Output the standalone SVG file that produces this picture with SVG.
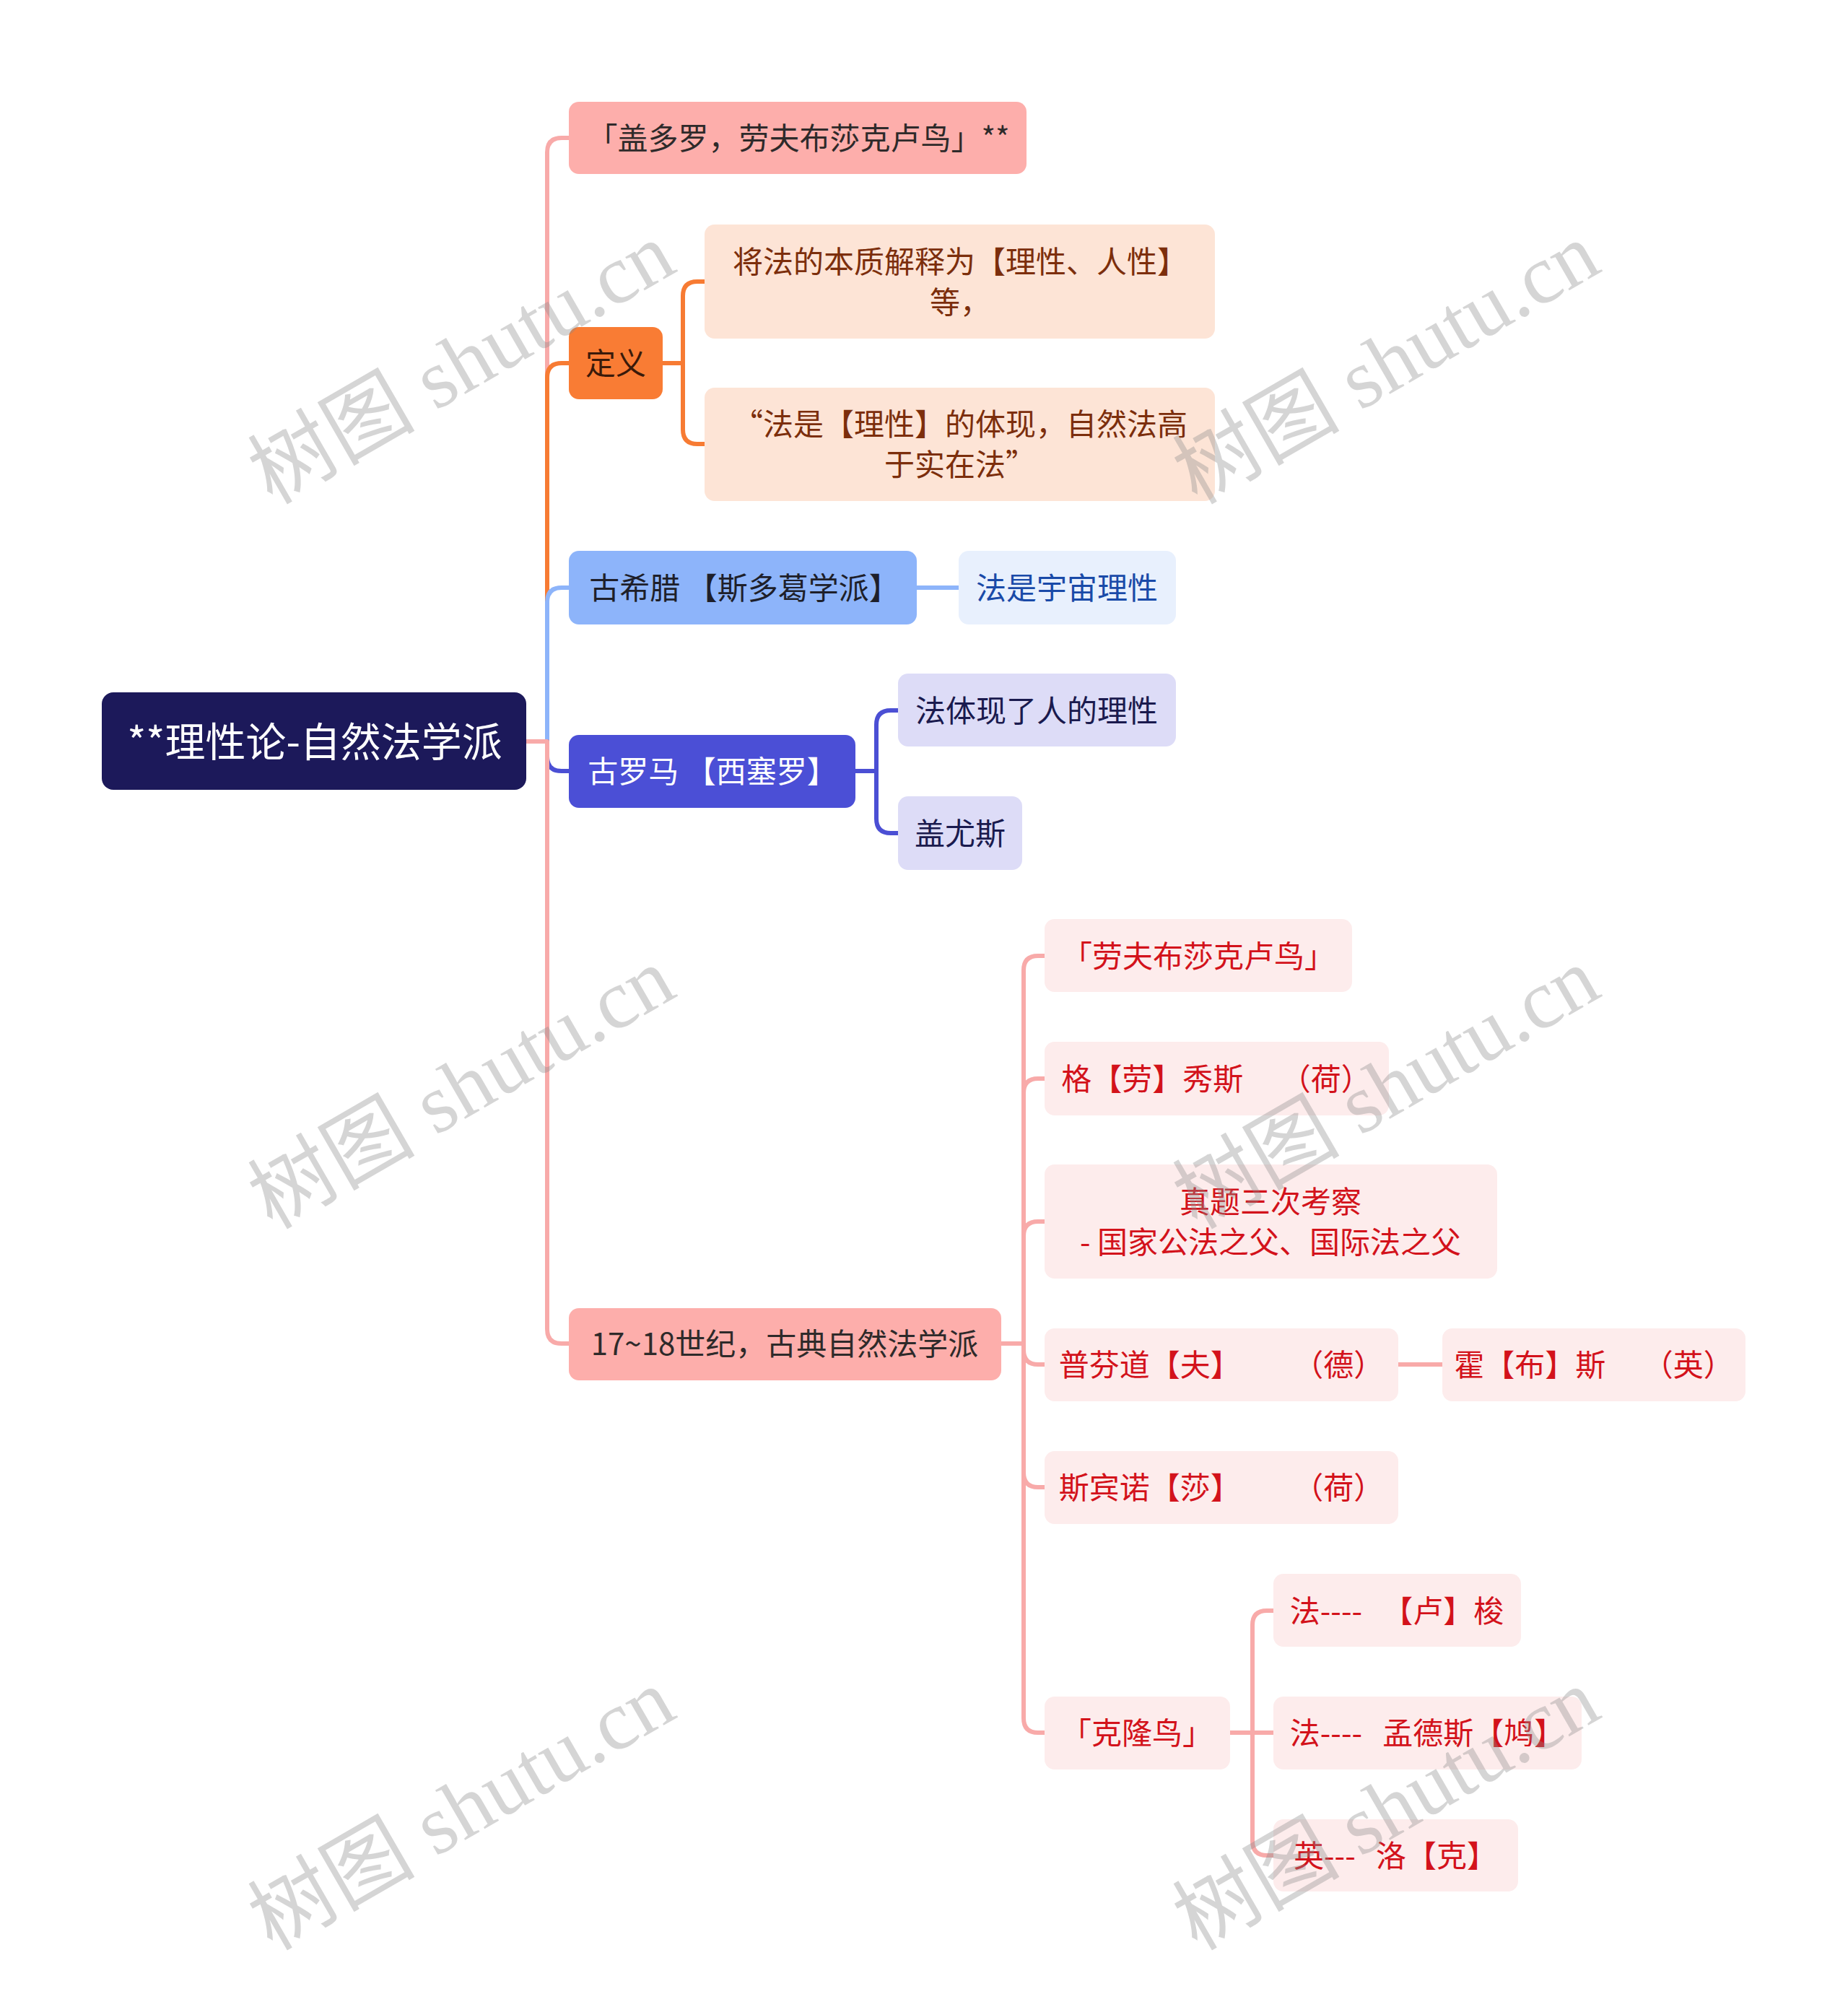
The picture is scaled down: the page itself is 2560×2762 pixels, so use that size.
<svg xmlns="http://www.w3.org/2000/svg" width="2560" height="2762" viewBox="0 0 2560 2762">
<style>
.t{font-family:"Noto Sans CJK SC","Noto Sans",sans-serif;font-size:42px;text-anchor:middle;dominant-baseline:central;white-space:pre}
.root{font-size:56px;fill:#ffffff}
.c{fill:none;stroke-width:6;stroke-linecap:butt;stroke-linejoin:round}
.pk{stroke:#f8aaa9}.or{stroke:#f77b33}.bl{stroke:#8db4fa}.in{stroke:#4b4fd4}
.wm{font-family:"Liberation Serif","Noto Sans CJK SC",serif;font-size:116px;fill:#8a8a8a;fill-opacity:0.36}
</style>
<rect width="2560" height="2762" fill="#ffffff"/>
<g id="connectors">
  <path class="c pk" d="M729 1027 H758 V211 Q758 191 778 191 H790"/>
  <path class="c or" d="M729 1027 H758 V523 Q758 503 778 503 H790"/>
  <path class="c bl" d="M729 1027 H758 V834 Q758 814 778 814 H790"/>
  <path class="c in" d="M729 1027 H758 V1048 Q758 1068 778 1068 H790"/>
  <path class="c pk" d="M729 1027 H758 V1841 Q758 1861 778 1861 H790"/>
  <path class="c or" d="M916 503 H946 V410 Q946 390 966 390 H978"/>
  <path class="c or" d="M916 503 H946 V595 Q946 615 966 615 H978"/>
  <path class="c bl" d="M1268 814 H1330"/>
  <path class="c in" d="M1183 1068 H1214 V1004 Q1214 984 1234 984 H1246"/>
  <path class="c in" d="M1183 1068 H1214 V1134 Q1214 1154 1234 1154 H1246"/>
  <path class="c pk" d="M1385 1861 H1418 V1344 Q1418 1324 1438 1324 H1449"/>
  <path class="c pk" d="M1385 1861 H1418 V1514 Q1418 1494 1438 1494 H1449"/>
  <path class="c pk" d="M1385 1861 H1418 V1712 Q1418 1692 1438 1692 H1449"/>
  <path class="c pk" d="M1385 1861 H1418 V1870 Q1418 1890 1438 1890 H1449"/>
  <path class="c pk" d="M1385 1861 H1418 V2040 Q1418 2060 1438 2060 H1449"/>
  <path class="c pk" d="M1385 1861 H1418 V2380 Q1418 2400 1438 2400 H1449"/>
  <path class="c pk" d="M1935 1890 H2000"/>
  <path class="c pk" d="M1702 2400 H1735 V2251 Q1735 2231 1755 2231 H1766"/>
  <path class="c pk" d="M1702 2400 H1766"/>
  <path class="c pk" d="M1702 2400 H1735 V2550 Q1735 2570 1755 2570 H1766"/>
</g>
<g id="root">
  <rect x="141" y="959" width="588" height="135" rx="16" fill="#1c195a"/>
  <text class="t root" x="436" y="1023">**理性论-自然法学派</text>
</g>
<g id="n1">
  <rect x="788" y="141" width="634" height="100" rx="14" fill="#fdaeab"/>
  <text class="t" x="1106" y="188" fill="#2e2a2a">「盖多罗，劳夫布莎克卢鸟」**</text>
</g>
<g id="n2">
  <rect x="788" y="453" width="130" height="100" rx="14" fill="#f97c34"/>
  <text class="t" x="853" y="500" fill="#3a1a0a">定义</text>
</g>
<g id="n2a">
  <rect x="976" y="311" width="707" height="158" rx="14" fill="#fde4d6"/>
  <text class="t" x="1330" y="359" fill="#7c2e0c">将法的本质解释为【理性、人性】</text>
  <text class="t" x="1330" y="415" fill="#7c2e0c">等，</text>
</g>
<g id="n2b">
  <rect x="976" y="537" width="707" height="157" rx="14" fill="#fde4d6"/>
  <text class="t" x="1330" y="584" fill="#7c2e0c">“法是【理性】的体现，自然法高</text>
  <text class="t" x="1330" y="640" fill="#7c2e0c">于实在法”</text>
</g>
<g id="n3">
  <rect x="788" y="763" width="482" height="102" rx="14" fill="#8db4fa"/>
  <text class="t" x="1031" y="811" fill="#1e1f2a">古希腊 【斯多葛学派】</text>
</g>
<g id="n3a">
  <rect x="1328" y="763" width="301" height="102" rx="14" fill="#e8f0fd"/>
  <text class="t" x="1478" y="811" fill="#1a4aa8">法是宇宙理性</text>
</g>
<g id="n4">
  <rect x="788" y="1018" width="397" height="101" rx="14" fill="#4b4fd6"/>
  <text class="t" x="987" y="1065" fill="#ffffff">古罗马 【西塞罗】</text>
</g>
<g id="n4a">
  <rect x="1244" y="933" width="385" height="101" rx="14" fill="#dddcf7"/>
  <text class="t" x="1436" y="981" fill="#1a1a4e">法体现了人的理性</text>
</g>
<g id="n4b">
  <rect x="1244" y="1103" width="172" height="102" rx="14" fill="#dddcf7"/>
  <text class="t" x="1330" y="1151" fill="#1a1a4e">盖尤斯</text>
</g>
<g id="n5">
  <rect x="788" y="1812" width="599" height="100" rx="14" fill="#fdaeab"/>
  <text class="t" x="1087" y="1858" fill="#2e2a2a">17~18世纪，古典自然法学派</text>
</g>
<g id="n5a">
  <rect x="1447" y="1273" width="426" height="101" rx="14" fill="#fdecec"/>
  <text class="t" x="1660" y="1321" fill="#d3121b">「劳夫布莎克卢鸟」</text>
</g>
<g id="n5b">
  <rect x="1447" y="1443" width="477" height="102" rx="14" fill="#fdecec"/>
  <text class="t" x="1685" y="1491" fill="#d3121b" xml:space="preserve">格【劳】秀斯　 （荷）</text>
</g>
<g id="n5c">
  <rect x="1447" y="1613" width="627" height="158" rx="14" fill="#fdecec"/>
  <text class="t" x="1760" y="1661" fill="#d3121b">真题三次考察</text>
  <text class="t" x="1760" y="1717" fill="#d3121b">- 国家公法之父、国际法之父</text>
</g>
<g id="n5d">
  <rect x="1447" y="1840" width="490" height="101" rx="14" fill="#fdecec"/>
  <text class="t" x="1692" y="1887" fill="#d3121b" xml:space="preserve">普芬道【夫】　　 （德）</text>
</g>
<g id="n5e">
  <rect x="1998" y="1840" width="420" height="101" rx="14" fill="#fdecec"/>
  <text class="t" x="2208" y="1887" fill="#d3121b" xml:space="preserve">霍【布】斯　 （英）</text>
</g>
<g id="n5f">
  <rect x="1447" y="2010" width="490" height="101" rx="14" fill="#fdecec"/>
  <text class="t" x="1692" y="2057" fill="#d3121b" xml:space="preserve">斯宾诺【莎】　　 （荷）</text>
</g>
<g id="n5g">
  <rect x="1447" y="2350" width="257" height="101" rx="14" fill="#fdecec"/>
  <text class="t" x="1575" y="2397" fill="#d3121b">「克隆鸟」</text>
</g>
<g id="g1">
  <rect x="1764" y="2180" width="343" height="101" rx="14" fill="#fdecec"/>
  <text class="t" x="1935" y="2228" fill="#d3121b" xml:space="preserve">法----   【卢】梭</text>
</g>
<g id="g2">
  <rect x="1764" y="2350" width="427" height="101" rx="14" fill="#fdecec"/>
  <text class="t" x="1977" y="2397" fill="#d3121b" xml:space="preserve">法----   孟德斯【鸠】</text>
</g>
<g id="g3">
  <rect x="1764" y="2520" width="339" height="100" rx="14" fill="#fdecec"/>
  <text class="t" x="1933" y="2567" fill="#d3121b" xml:space="preserve">英---   洛【克】</text>
</g>
<g id="watermarks">
  <text class="wm" x="377" y="700" transform="rotate(-30 377 700)">树图 shutu.cn</text>
  <text class="wm" x="1658" y="700" transform="rotate(-30 1658 700)">树图 shutu.cn</text>
  <text class="wm" x="377" y="1704" transform="rotate(-30 377 1704)">树图 shutu.cn</text>
  <text class="wm" x="1658" y="1704" transform="rotate(-30 1658 1704)">树图 shutu.cn</text>
  <text class="wm" x="377" y="2703" transform="rotate(-30 377 2703)">树图 shutu.cn</text>
  <text class="wm" x="1658" y="2703" transform="rotate(-30 1658 2703)">树图 shutu.cn</text>
</g>
</svg>
